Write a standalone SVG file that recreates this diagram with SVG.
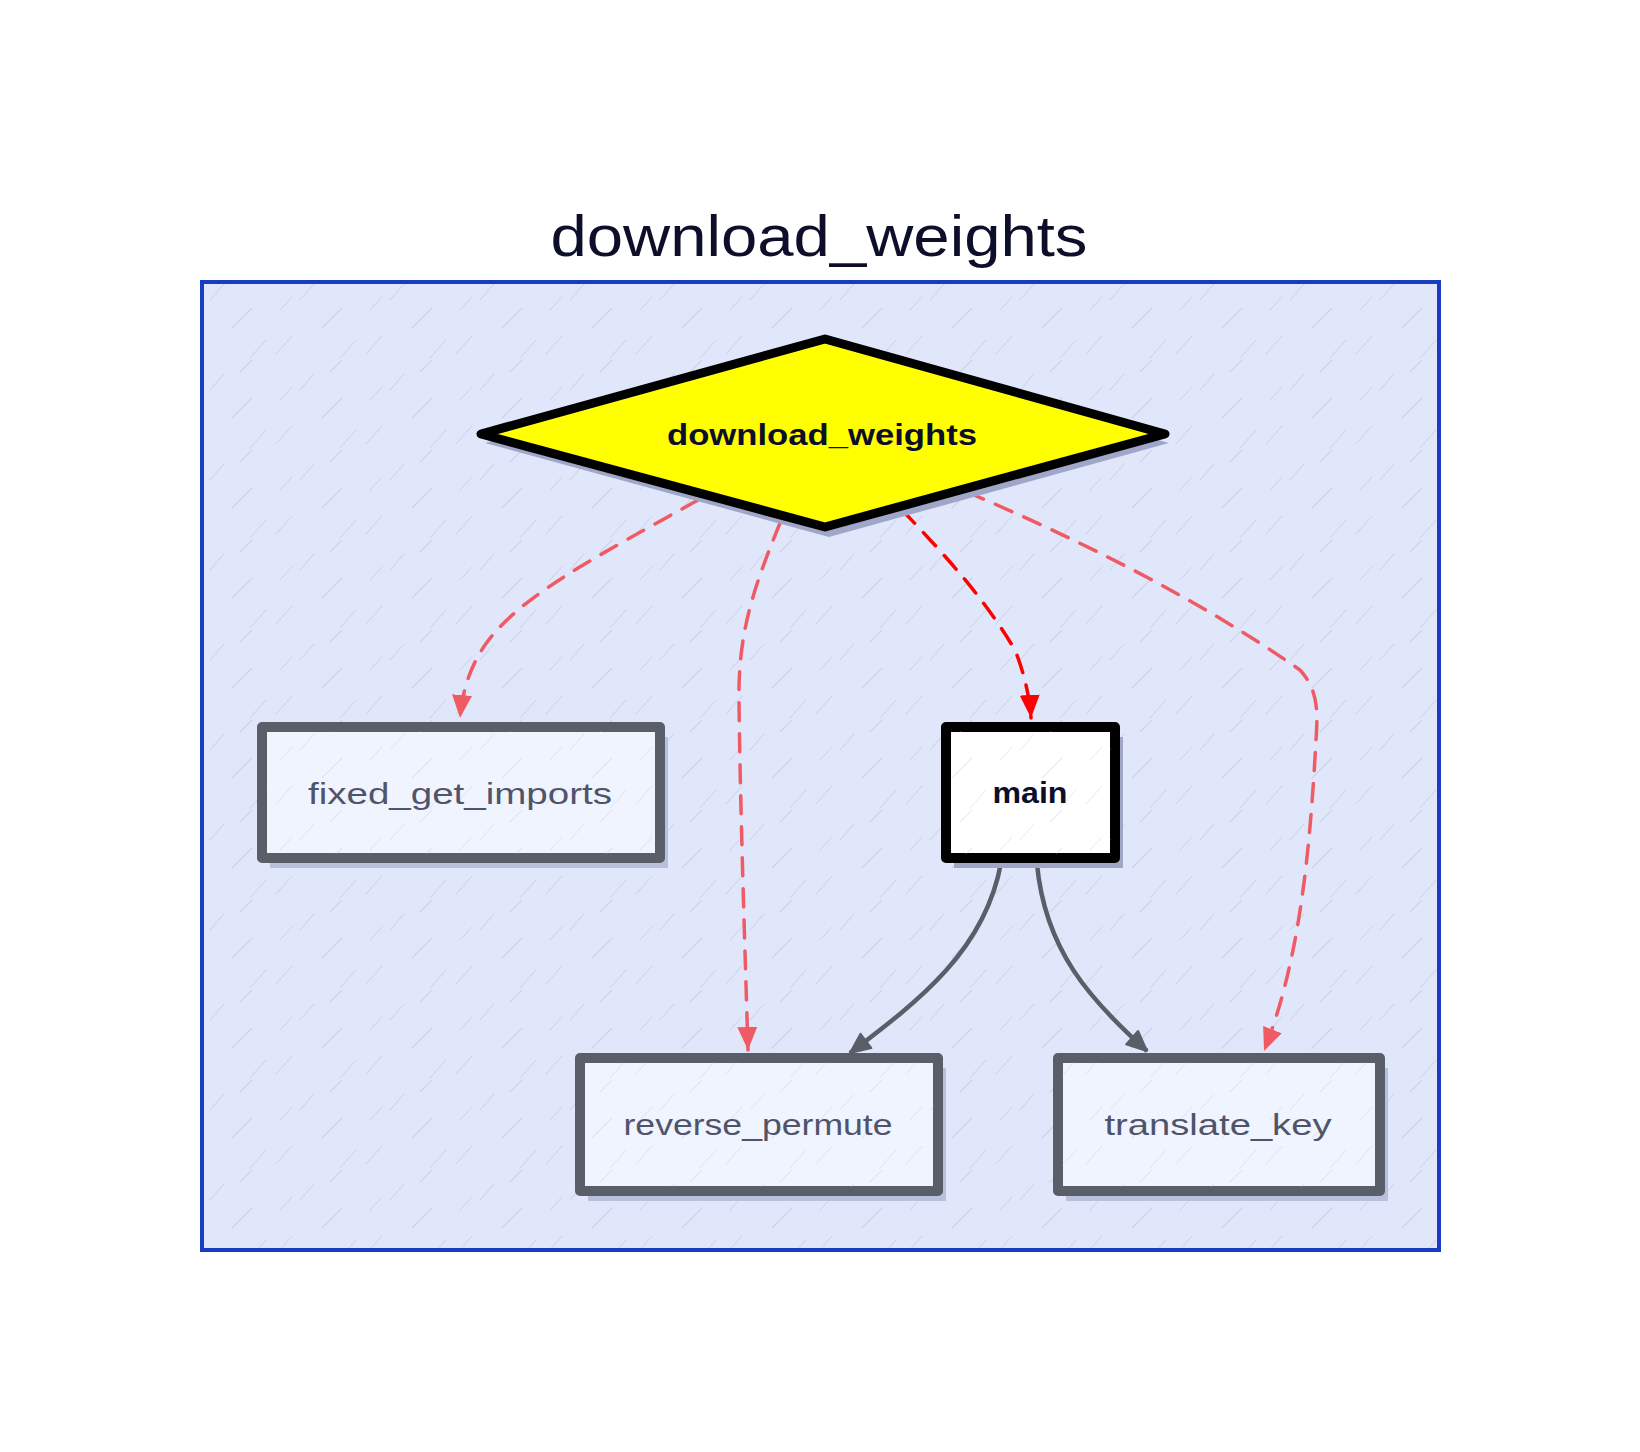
<svg xmlns="http://www.w3.org/2000/svg" width="1640" height="1452" viewBox="0 0 1640 1452">
<defs>
<style>
.lbl{font-family:"Liberation Sans",Arial,sans-serif;font-size:30px;text-anchor:middle}
.gray{fill:#50546a}
.dark{fill:#0c0e2a;font-weight:bold}
.box{fill:#f0f4fe;stroke:#5a5e68;stroke-width:10;stroke-linejoin:round}
.shadow{fill:#b9c0dc}
.red{fill:none;stroke:#f05a64;stroke-width:3.5;stroke-dasharray:18 13;stroke-linecap:round}
.redmain{fill:none;stroke:#ff0000;stroke-width:3.5;stroke-dasharray:18 13;stroke-linecap:round}
.gedge{fill:none;stroke:#5a5e68;stroke-width:4.5}
</style>
<pattern id="hatch" patternUnits="userSpaceOnUse" width="90" height="90">
<path d="M6,84 L22,66 M52,58 L72,38 M30,30 L44,14 M70,88 L86,70 M10,40 L22,27 M60,12 L72,0" stroke="#b4bcd6" stroke-width="1.1" opacity="0.45" stroke-linecap="round"/>
</pattern>
<marker id="arrRed" markerUnits="userSpaceOnUse" markerWidth="26" markerHeight="22" refX="23" refY="11" orient="auto">
<path d="M0,1 L23,11 L0,21 z" fill="#f05a64"/>
</marker>
<marker id="arrRedMain" markerUnits="userSpaceOnUse" markerWidth="26" markerHeight="22" refX="23" refY="11" orient="auto">
<path d="M0,1 L23,11 L0,21 z" fill="#ff0000"/>
</marker>
<marker id="arrGray" markerUnits="userSpaceOnUse" markerWidth="26" markerHeight="22" refX="22" refY="11" orient="auto">
<path d="M2,2 L22,11 L2,20 z" fill="#5a5e68" stroke="#5a5e68" stroke-width="2" stroke-linejoin="round"/>
</marker>
</defs>
<rect width="1640" height="1452" fill="#ffffff"/>

<g id="cluster">
<text x="819" y="256" font-family="Liberation Sans, Arial, sans-serif" font-size="58" fill="#0c0e2a" text-anchor="middle" textLength="537" lengthAdjust="spacingAndGlyphs">download_weights</text>
<rect x="202" y="282" width="1237" height="968" fill="#e0e7fa" stroke="#1a3cc0" stroke-width="4"/>
<rect x="204" y="284" width="1233" height="964" fill="url(#hatch)"/>
</g>

<g id="connectors">
<path class="red" d="M698,500 C600,555 520,595 485,645 C468,670 462,695 460,718" marker-end="url(#arrRed)"/>
<path class="red" d="M780,523 C755,585 738,630 739,700 C740,800 745,950 748,1050" marker-end="url(#arrRed)"/>
<path class="redmain" d="M902,510 C950,560 985,600 1015,650 C1025,675 1030,700 1031,718" marker-end="url(#arrRedMain)"/>
<path class="red" d="M967,492 C1080,540 1200,600 1300,670 C1318,690 1318,710 1316,740 C1310,850 1300,960 1264,1051" marker-end="url(#arrRed)"/>
<path class="gedge" d="M1001,863 C985,950 920,1000 850,1053" marker-end="url(#arrGray)"/>
<path class="gedge" d="M1037,864 C1045,950 1090,1000 1147,1051" marker-end="url(#arrGray)"/>
</g>

<g id="download_weights">
<polygon points="829,348 1169,443 829,537 485,443" fill="#9fa6c8"/>
<polygon points="825,339 1165,434 825,527 481,434" fill="#ffff00" stroke="#000000" stroke-width="9" stroke-linejoin="round"/>
<text class="lbl dark" x="822" y="445" textLength="310" lengthAdjust="spacingAndGlyphs">download_weights</text>
</g>

<g id="fixed_get_imports">
<rect class="shadow" x="270" y="737" width="398" height="131"/>
<rect class="box" x="262" y="727" width="398" height="131"/>
<rect x="266" y="731" width="390" height="123" fill="url(#hatch)" opacity="0.6"/>
<text class="lbl gray" x="460" y="804" textLength="304" lengthAdjust="spacingAndGlyphs">fixed_get_imports</text>
</g>

<g id="main">
<rect x="954" y="737" width="169" height="131" fill="#a0a6c6"/>
<rect x="946" y="727" width="169" height="131" fill="#ffffff" stroke="#000000" stroke-width="10" stroke-linejoin="round"/>
<rect x="950" y="731" width="161" height="123" fill="url(#hatch)" opacity="0.6"/>
<text class="lbl dark" x="1030" y="803" textLength="75" lengthAdjust="spacingAndGlyphs">main</text>
</g>

<g id="reverse_permute">
<rect class="shadow" x="588" y="1068" width="358" height="133"/>
<rect class="box" x="580" y="1058" width="358" height="133"/>
<rect x="584" y="1062" width="350" height="125" fill="url(#hatch)" opacity="0.6"/>
<text class="lbl gray" x="758" y="1135" textLength="269" lengthAdjust="spacingAndGlyphs">reverse_permute</text>
</g>

<g id="translate_key">
<rect class="shadow" x="1066" y="1068" width="322" height="133"/>
<rect class="box" x="1058" y="1058" width="322" height="133"/>
<rect x="1062" y="1062" width="314" height="125" fill="url(#hatch)" opacity="0.6"/>
<text class="lbl gray" x="1218" y="1135" textLength="227" lengthAdjust="spacingAndGlyphs">translate_key</text>
</g>
</svg>
